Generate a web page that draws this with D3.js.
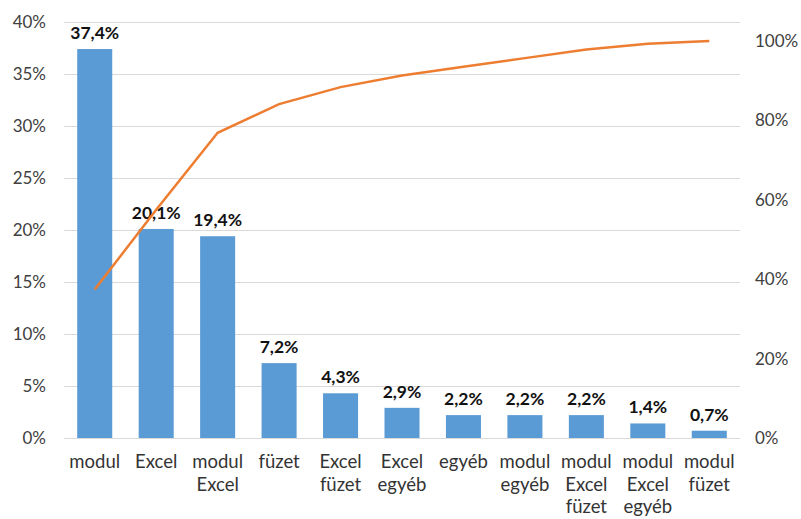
<!DOCTYPE html>
<html>
<head>
<meta charset="utf-8">
<script src="https://cdn.jsdelivr.net/npm/d3@7"></script>
<style>
  body { margin: 0; background: #fff; }
  text { font-family: Lato, "Open Sans", sans-serif; }
</style>
</head>
<body>
<div id="chart"></div>
<script>
// categories (two-line labels split on "|")
const categories = ["modul", "Excel", "modul|Excel", "füzet", "Excel|füzet", "Excel|egyéb",
    "egyéb", "modul|egyéb", "modul|Excel|füzet", "modul|Excel|egyéb", "modul|füzet"];
const shares = [0.374, 0.201, 0.194, 0.072, 0.043, 0.029, 0.022, 0.022, 0.022, 0.014, 0.007];
const cumulative = [0.374, 0.575, 0.769, 0.841, 0.884, 0.913, 0.935, 0.957, 0.979, 0.993, 1.0];
const leftTicks = [0, 0.05, 0.10, 0.15, 0.20, 0.25, 0.30, 0.35, 0.40];
const rightTicks = [0, 0.2, 0.4, 0.6, 0.8, 1.0];

let width = 801, height = 519;
let plot = { left: 64, right: 740, top: 22, bottom: 438 };

let svg = d3.select("#chart").append("svg")
    .attr("width", width)
    .attr("height", height);

let x = d3.scaleBand().domain(categories).range([plot.left, plot.right]).paddingInner(0.43).paddingOuter(0.215);
let y = d3.scaleLinear().domain([0, 0.40]).range([plot.bottom, plot.top]);
let y2 = d3.scaleLinear().domain([0, 1.048]).range([plot.bottom, plot.top]);

let fmt = d => Math.round(d * 100) + "%";
let fmtLabel = d => (d * 100).toFixed(1).replace(".", ",") + "%";

// gridlines
svg.append("g")
    .attr("transform", `translate(${plot.left},0)`)
    .call(d3.axisLeft(y).tickValues(leftTicks).tickSize(-(plot.right - plot.left)).tickFormat(fmt).tickPadding(18))
    .call(g => g.select(".domain").remove())
    .call(g => g.selectAll("line").attr("stroke", "#d9d9d9"))
    .call(g => g.selectAll("text").attr("fill", "#404040").attr("font-size", "17px"));

svg.append("g")
    .attr("transform", `translate(${plot.right},0)`)
    .call(d3.axisRight(y2).tickValues(rightTicks).tickSize(0).tickFormat(fmt).tickPadding(15))
    .call(g => g.select(".domain").remove())
    .call(g => g.selectAll("text").attr("fill", "#404040").attr("font-size", "17px"));

// bars
svg.selectAll(".bar")
    .data(shares)
    .enter()
    .append("rect")
    .attr("x", (d, i) => x(categories[i]))
    .attr("y", d => y(d))
    .attr("width", x.bandwidth())
    .attr("height", d => plot.bottom - y(d))
    .attr("fill", "#5b9bd5");

// bar labels
svg.selectAll(".lbl")
    .data(shares)
    .enter()
    .append("text")
    .attr("x", (d, i) => x(categories[i]) + x.bandwidth() / 2)
    .attr("y", d => y(d) - 10)
    .attr("text-anchor", "middle")
    .attr("font-size", "17.5px")
    .attr("font-weight", "bold")
    .attr("fill", "#111")
    .text(fmtLabel);

// category labels
let cat = svg.selectAll(".cat")
    .data(categories)
    .enter()
    .append("text")
    .attr("x", d => x(d) + x.bandwidth() / 2)
    .attr("y", 468)
    .attr("text-anchor", "middle")
    .attr("font-size", "18.5px")
    .attr("fill", "#333");
cat.selectAll("tspan")
    .data(d => d.split("|").map(t => ({ t, c: d })))
    .enter()
    .append("tspan")
    .attr("x", d => x(d.c) + x.bandwidth() / 2)
    .attr("dy", (d, i) => i === 0 ? 0 : 22.5)
    .text(d => d.t);

// cumulative line
let line = d3.line()
    .x((d, i) => x(categories[i]) + x.bandwidth() / 2)
    .y(d => y2(d));

svg.append("path")
    .datum(cumulative)
    .attr("d", line)
    .attr("fill", "none")
    .attr("stroke", "#ed7d31")
    .attr("stroke-width", 2.5);
</script>
</body>
</html>
